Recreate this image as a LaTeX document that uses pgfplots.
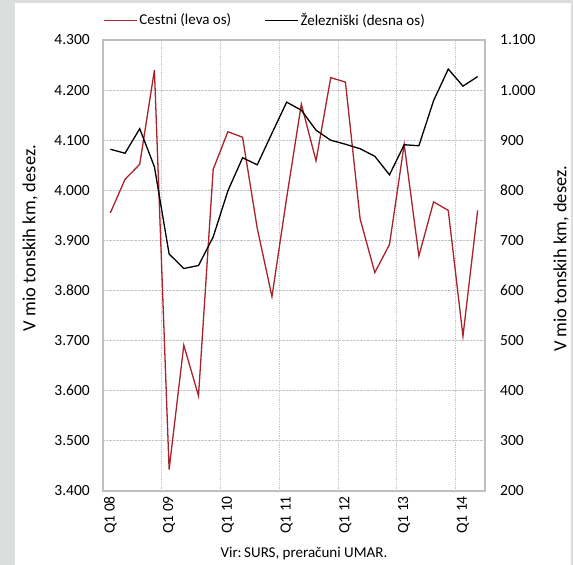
\documentclass[border=0pt]{standalone}
\usepackage{pgfplots}
\pgfplotsset{compat=1.18}
\usepackage{fontspec}
\setmainfont{Carlito}
\definecolor{bgray}{HTML}{DCDEDD}
\definecolor{cred}{HTML}{A8232B}
\definecolor{framec}{HTML}{BFBFBF}
\definecolor{gridc}{HTML}{C4C4C4}
\pgfplotstableread{
i cestni zel
0 3955 882
1 4022 874
2 4052 923
3 4240 847
4 3443 673
5 3691 644
6 3590 650
7 4042 707
8 4117 799
9 4106 865
10 3924 851
11 3788 914
12 3985 976
13 4172 960
14 4059 920
15 4225 900
16 4216 892
17 3943 883
18 3836 868
19 3892 831
20 4092 891
21 3869 889
22 3977 979
23 3960 1042
24 3709 1008
25 3960 1027
}\data
\begin{document}
\fontsize{15bp}{18bp}\selectfont
\begin{tikzpicture}
\fill[bgray] (0,0) rectangle (573bp,-565bp);
\fill[white] (15bp,-3bp) rectangle (571bp,-565bp);
\useasboundingbox (0,0) rectangle (573bp,-565bp);
\pgfplotsset{
  common/.style={
    scale only axis, width=382bp, height=451bp,
    at={(103bp,-491bp)}, anchor=south west,
    xmin=-0.5, xmax=25.5,
    tick style={draw=none},
    ticklabel style={font=\fontsize{15.5bp}{18bp}\selectfont},
    yticklabel style={/pgf/number format/fixed, /pgf/number format/precision=0,
      /pgf/number format/1000 sep={.}, /pgf/number format/assume math mode=true},
    label style={font=\fontsize{18.5bp}{20bp}\selectfont},
  }
}
\begin{axis}[common,
  ymin=3400, ymax=4300, ytick distance=100,
  xtick={0,4,...,24},
  xticklabels={Q1 08,Q1 09,Q1 10,Q1 11,Q1 12,Q1 13,Q1 14},
  xticklabel style={rotate=90, anchor=east, xshift=0bp},
  minor xtick={3.5,7.5,11.5,15.5,19.5,23.5},
  ymajorgrids, xminorgrids,
  grid style={gridc, densely dotted, line width=0.8bp},
  minor grid style={gridc, densely dotted, line width=0.8bp},
  axis line style={framec, line width=1.5bp},
  yticklabel style={xshift=-8bp},
  ylabel={V mio tonskih km, desez.},
  ylabel style={at={(axis description cs:-0.191,0.561)}, rotate=0, anchor=center},
  xlabel={Vir:\,SURS, preračuni UMAR.},
  xlabel style={at={(axis description cs:0.526,-0.139)}, anchor=center, font=\fontsize{15bp}{18bp}\selectfont},
  legend columns=2,
  legend style={at={(0,1)}, anchor=south west, yshift=10bp, xshift=0bp,
    draw=none, fill=none, inner sep=0pt,
    font=\fontsize{15bp}{18bp}\selectfont,
    /tikz/every even column/.append style={column sep=31bp}},
  legend image code/.code={\draw[#1] (0bp,0bp) -- (33bp,0bp);},
]
\addplot[cred, line width=1.3bp] table[x=i, y=cestni] {\data};
\addlegendentry{Cestni (leva os)}
\addlegendimage{black, line width=1.3bp}
\addlegendentry{Železniški (desna os)}
\end{axis}
\begin{axis}[common,
  ymin=200, ymax=1100, ytick distance=100,
  axis x line=none, axis y line*=right,
  axis line style={draw=none},
  yticklabel style={xshift=10bp},
  ylabel={V mio tonskih km, desez.},
  ylabel style={at={(axis description cs:1.199,0.515)}, rotate=0, anchor=center},
]
\addplot[black, line width=1.3bp] table[x=i, y=zel] {\data};
\end{axis}
\end{tikzpicture}
\end{document}
